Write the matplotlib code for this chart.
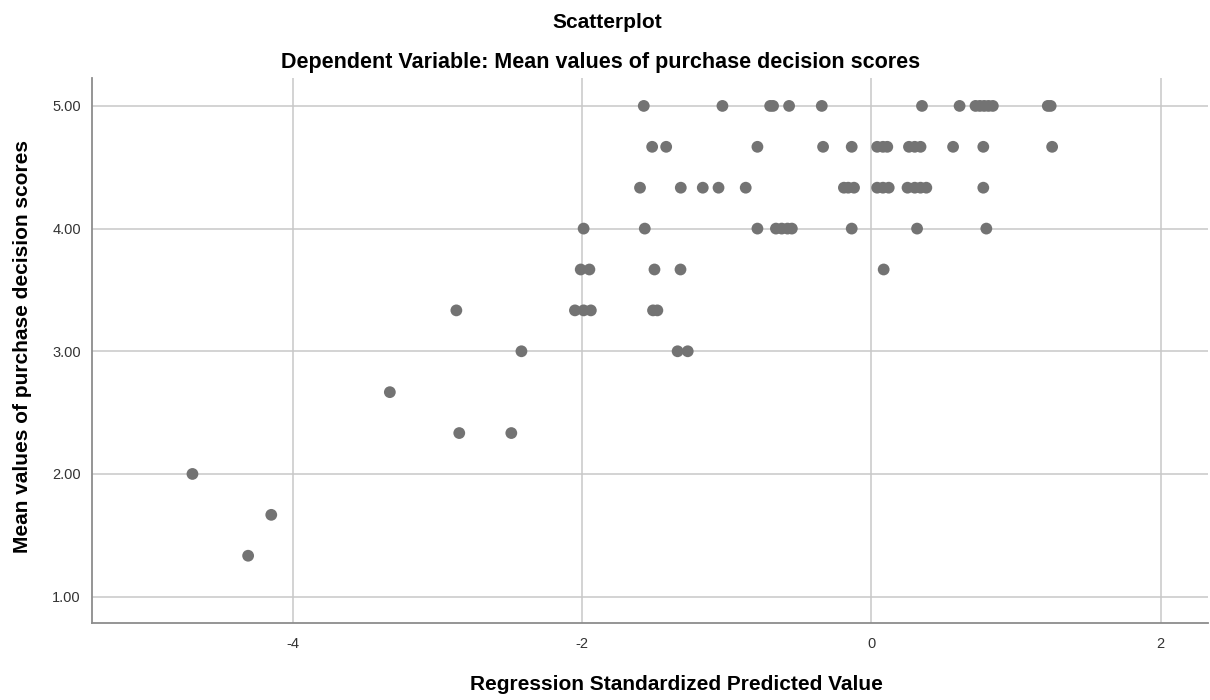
import matplotlib.pyplot as plt

# Observed mean purchase decision scores and the predicted values (by score level)
x_500 = [-1.574, -1.03, -0.70, -0.68, -0.569, -0.343, 0.350, 0.610,
         0.72, 0.75, 0.78, 0.81, 0.84, 1.22, 1.24]
x_467 = [-1.516, -1.419, -0.788, -0.334, -0.136, 0.04, 0.08, 0.11,
         0.26, 0.30, 0.34, 0.565, 0.774, 1.25]
x_433 = [-1.60, -1.318, -1.166, -1.057, -0.869, -0.19, -0.16, -0.12,
         0.04, 0.08, 0.12, 0.25, 0.30, 0.34, 0.38, 0.774]
x_400 = [-1.99, -1.567, -0.788, -0.66, -0.62, -0.58, -0.55, -0.136,
         0.316, 0.795]
x_367 = [-2.01, -1.95, -1.50, -1.32, 0.085]
x_333 = [-2.87, -2.05, -1.99, -1.94, -1.51, -1.48]
x_300 = [-2.42, -1.34, -1.27]
x_267 = [-3.33]
x_233 = [-2.85, -2.49]
x_200 = [-4.695]
x_167 = [-4.15]
x_133 = [-4.31]

levels = [5.0, 14/3, 13/3, 4.0, 11/3, 10/3, 3.0, 8/3, 7/3, 2.0, 5/3, 4/3]
groups = [x_500, x_467, x_433, x_400, x_367, x_333, x_300, x_267,
          x_233, x_200, x_167, x_133]

x_vals = []
y_vals = []
for lev, xs in zip(levels, groups):
    x_vals += xs
    y_vals += [lev] * len(xs)

x_ticks = [-4, -2, 0, 2]
y_ticks = [1, 2, 3, 4, 5]

plt.rcParams['font.family'] = ['Liberation Sans', 'DejaVu Sans']

fig = plt.figure(figsize=(12.1, 7), dpi=100)
ax = fig.add_axes([0.076, 0.11, 0.922, 0.779])

ax.scatter(x_vals, y_vals, s=72, color='#737373', edgecolor='none', zorder=3)

ax.set_xlim(-5.39, 2.325)
ax.set_ylim(0.785, 5.23)
ax.set_xticks(x_ticks)
ax.set_xticklabels([str(t) for t in x_ticks])
ax.set_yticks(y_ticks)
ax.set_yticklabels(['%.2f' % t for t in y_ticks])

ax.grid(True, color='#c8c8c8', linewidth=1.1)
ax.set_axisbelow(True)
for side in ['top', 'right']:
    ax.spines[side].set_visible(False)
for side in ['left', 'bottom']:
    ax.spines[side].set_color('#8c8c8c')
    ax.spines[side].set_linewidth(1.3)

ax.tick_params(axis='both', length=0, labelsize=10.5, labelcolor='#333333')
ax.tick_params(axis='x', pad=10)
ax.tick_params(axis='y', pad=8)

fig.text(0.502, 0.968, 'Scatterplot', ha='center', va='center',
         fontsize=15, fontweight='bold')
fig.text(0.496, 0.911, 'Dependent Variable: Mean values of purchase decision scores',
         ha='center', va='center', fontsize=15.5, fontweight='bold')
fig.text(0.559, 0.022, 'Regression Standardized Predicted Value',
         ha='center', va='center', fontsize=15, fontweight='bold')
fig.text(0.019, 0.505, 'Mean values of purchase decision scores', rotation=90,
         ha='center', va='center', fontsize=15, fontweight='bold')

plt.savefig('out.png', dpi=100)
